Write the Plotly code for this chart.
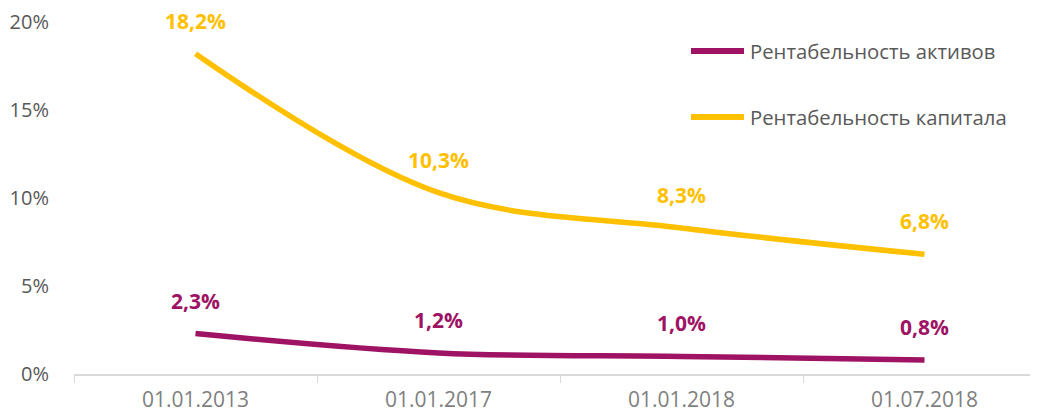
import plotly.graph_objects as go

categories = ["01.01.2013", "01.01.2017", "01.01.2018", "01.07.2018"]
roa = [2.3, 1.2, 1.0, 0.8]
roe = [18.2, 10.3, 8.3, 6.8]
names = ["Рентабельность активов", "Рентабельность капитала"]
y_ticks = [0, 5, 10, 15, 20]

PURPLE = "#9E1363"
YELLOW = "#FFC000"
FONT = "Open Sans"

W, H = 1038, 414
ML, MR, MT, MB = 66, 0, 14, 48
PW, PH = W - ML - MR, H - MT - MB
CAT_W = 243


def fmt(v):
    return f"{v:.1f}".replace(".", ",") + "%"


def px_x(fx):
    return (fx - ML) / PW


def px_y(fy):
    return (H - MB - fy) / PH


fig = go.Figure()
series = [(names[0], roa, PURPLE), (names[1], roe, YELLOW)]
for name, vals, col in series:
    fig.add_trace(go.Scatter(
        x=categories, y=vals, mode="lines", name=name, showlegend=False,
        line=dict(color=col, width=5.5, shape="spline", smoothing=1.0),
        hoverinfo="skip", cliponaxis=False,
    ))
    for c, v in zip(categories, vals):
        fig.add_annotation(x=c, y=v, text=fmt(v), showarrow=False, yshift=33,
                           font=dict(family=FONT, size=21, color=col, weight="bold"))

# legend (drawn manually to match long line symbols)
legend_rows = [43, 109]
for (name, vals, col), fy in zip(series, legend_rows):
    fig.add_shape(type="line", xref="paper", yref="paper",
                  x0=px_x(683), x1=px_x(736), y0=px_y(fy), y1=px_y(fy),
                  line=dict(color=col, width=6))
    fig.add_annotation(xref="paper", yref="paper", x=px_x(740), y=px_y(fy),
                       xanchor="left", yanchor="middle", text=name, showarrow=False,
                       font=dict(family=FONT, size=20.3, color="#595959"))

fig.update_layout(
    width=W, height=H,
    margin=dict(l=ML, r=MR, t=MT, b=MB, autoexpand=False),
    paper_bgcolor="white", plot_bgcolor="white",
    showlegend=False,
    xaxis=dict(type="category", range=[-0.5, -0.5 + PW / CAT_W],
               showline=True, linecolor="#D9D9D9", linewidth=1.5,
               ticks="outside", tickson="boundaries", ticklen=7, tickcolor="#D9D9D9",
               showgrid=False, zeroline=False, ticklabelstandoff=6,
               tickfont=dict(family=FONT, size=21, color="#7F7F7F")),
    yaxis=dict(range=[0, 20], tickvals=y_ticks, ticktext=[f"{t}%" for t in y_ticks],
               showgrid=False, zeroline=False, showline=False,
               ticks="", ticklabelstandoff=24,
               tickfont=dict(family=FONT, size=20, color="#595959")),
)

fig.write_html("out.html")
